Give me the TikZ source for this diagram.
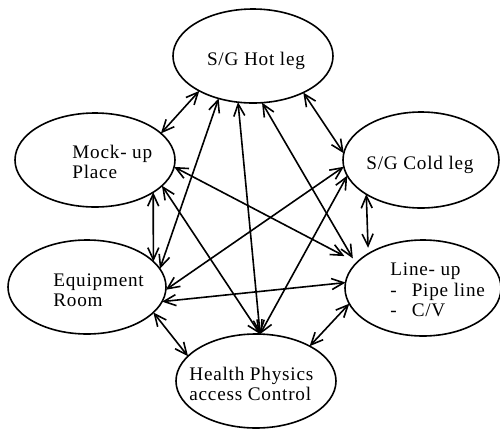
\documentclass[tikz,border=0pt]{standalone}
\usepackage{fontspec}
\setmainfont{Liberation Serif}
\newfontfamily\placefont[LetterSpace=4]{Liberation Serif}
\usetikzlibrary{shapes.geometric,arrows.meta}

\begin{document}
\begin{tikzpicture}[x=0.5pt,y=-0.5pt,
	place/.style={draw,ellipse,line width=0.8pt,inner sep=0pt,outer sep=0pt,minimum width=80pt,minimum height=47pt},
	placetext/.style={inner sep=0pt,align=left,anchor=west,font=\placefont\fontsize{9.6}{10.2}\selectfont},
	link/.style={line width=0.8pt,{Straight Barb[length=6pt,width=5.5pt]}-{Straight Barb[length=6pt,width=5.5pt]}}]
	\useasboundingbox (0,0) rectangle (500,430);

	%Draw the six places
	\node[place] (hot) at (253,56) {};
	\node[place] (mock) at (95,160) {};
	\node[place,minimum width=78pt,minimum height=48pt] (cold) at (421,160) {};
	\node[place,minimum width=79pt] (equip) at (87,287) {};
	\node[place,minimum width=78pt,minimum height=48pt] (line) at (423,288) {};
	\node[place] (health) at (256,381) {};

	%Texts inside the places
	\node[placetext,anchor=center] (hotText) at (256,61) {S/G Hot leg};
	\node[placetext] (mockText) at (72,162) {Mock- up\\Place};
	\node[placetext,anchor=center] (coldText) at (420,165) {S/G Cold leg};
	\node[placetext] (equipText) at (53,290) {Equipment\\Room};
	\node[placetext] (lineText) at (390,290) {Line- up\\-\hspace{7.5pt}Pipe line\\-\hspace{7.5pt}C/V};
	\node[placetext] (healthText) at (189,384) {Health Physics\\access Control};

	%Links round the ring
	\draw[link] (hot.213) -- (mock.22);
	\draw[link] (hot.324) -- (cold.175);
	\draw[link] (mock.331) -- (equip.21);
	\draw[link,shorten >=3pt] (cold.212) -- (line.148);
	\draw[link] (equip.339) -- (health.160);
	\draw[link] (line.192) -- (health.33);

	%Links across the ring
	\draw[link] (equip.349) -- (line.176);
	\draw[link] (hot.231) -- (equip.14);
	\draw[link] (hot.252) -- (health.85);
	\draw[link,shorten >=3pt] (hot.281) -- (line.160);
	\draw[link,shorten >=7pt] (mock.355) -- (line.159);
	\draw[link] (mock.339) -- (health.85);
	\draw[link] (cold.185) -- (equip.358);
	\draw[link] (cold.192) -- (health.85);

\end{tikzpicture}
\end{document}
